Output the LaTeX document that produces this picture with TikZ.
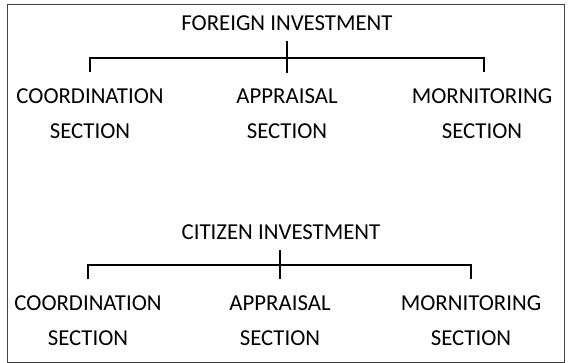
\documentclass[tikz,border=0pt]{standalone}
\usepackage{fontspec}
\setmainfont{Carlito}
\usetikzlibrary{positioning}

\begin{document}
\begin{tikzpicture}[x=1pt,y=-1pt,
    sect/.style={align=center,inner sep=0pt,font=\fontsize{22.8}{35}\selectfont},
    head/.style={inner sep=0pt,font=\fontsize{22.8}{26}\selectfont},
    bar/.style={line width=2.2pt}]
    \useasboundingbox (0,0) rectangle (569,363);
    \draw[black!75,line width=0.9pt] (7,4) rectangle (564,362);

    % foreign investment
    \node[head] (fi)  at (287,23) {FOREIGN INVESTMENT} ;
    \node[sect] (fc)  at (90,114) {COORDINATION\\SECTION} ;
    \node[sect] (fa)  at (287,114) {APPRAISAL\\SECTION} ;
    \node[sect] (fm)  at (482,114) {MORNITORING\\SECTION} ;
    \coordinate (ft) at (287,41) ;
    \coordinate (fb) at (287,73) ;
    \coordinate (fj) at (287,58) ;
    \coordinate (fl) at (90,72) ;
    \coordinate (fr) at (484,72) ;
    \draw[bar] (fl) |- (fj) -| (fr) ;
    \draw[bar] (ft) -- (fb) ;

    % citizen investment
    \node[head] (ci)  at (281,232) {CITIZEN INVESTMENT} ;
    \node[sect] (cc)  at (88,321) {COORDINATION\\SECTION} ;
    \node[sect] (ca)  at (280,321) {APPRAISAL\\SECTION} ;
    \node[sect] (cm)  at (471,321) {MORNITORING\\SECTION} ;
    \coordinate (ct) at (280,250) ;
    \coordinate (cb) at (280,279) ;
    \coordinate (cj) at (280,265) ;
    \coordinate (cl) at (88,279) ;
    \coordinate (cr) at (471,279) ;
    \draw[bar] (cl) |- (cj) -| (cr) ;
    \draw[bar] (ct) -- (cb) ;
\end{tikzpicture}
\end{document}
